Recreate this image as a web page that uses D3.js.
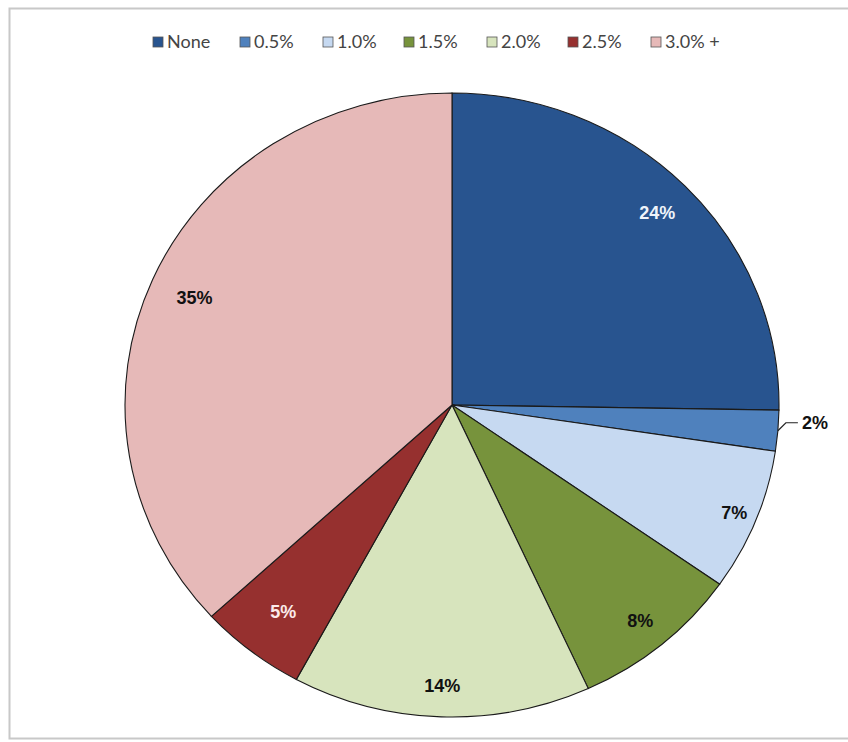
<!DOCTYPE html>
<html>
<head>
<meta charset="utf-8">
<script src="https://cdn.jsdelivr.net/npm/d3@7"></script>
<style>
  html, body { margin: 0; padding: 0; background: #ffffff; }
  svg { display: block; }
</style>
</head>
<body>
<svg id="chart" width="848" height="742"></svg>
<script>
// Share of respondents by rate category
const categories = ["None", "0.5%", "1.0%", "1.5%", "2.0%", "2.5%", "3.0% +"];
const shares = [24, 2, 7, 8, 14, 5, 35];
const sliceLabels = ["24%", "2%", "7%", "8%", "14%", "5%", "35%"];
const sliceColors = ["#28548f", "#4f81bd", "#c6d9f1", "#77933c", "#d7e4bd", "#96302f", "#e6b9b8"];
const labelColors = ["#eef3fa", "#111111", "#111111", "#111111", "#111111", "#fbeaea", "#111111"];

const W = 848, H = 742;
const svg = d3.select("#chart");

// chart frame
svg.append("rect")
  .attr("x", 9.5).attr("y", 8.5)
  .attr("width", W + 20).attr("height", 730)
  .attr("fill", "#ffffff")
  .attr("stroke", "#c8c8c8").attr("stroke-width", 2);

// pie geometry (slightly wider than tall)
const cx = 452, cy = 405, ry = 312, rx = 327;
const sx = rx / ry;

const pie = d3.pie().sort(null).value(d => d);
const arcs = pie(shares);
const arc = d3.arc().innerRadius(0).outerRadius(ry);

const g = svg.append("g")
  .attr("transform", `translate(${cx},${cy}) scale(${sx},1)`);

g.selectAll("path.slice")
  .data(arcs)
  .enter().append("path")
  .attr("class", "slice")
  .attr("d", arc)
  .attr("fill", (d, i) => sliceColors[i])
  .attr("stroke", "#1a1a1a")
  .attr("stroke-width", 1.1)
  .attr("vector-effect", "non-scaling-stroke");

// point on the ellipse at given angle (0 = top, clockwise) and radius fraction
function pt(angle, frac) {
  return [cx + rx * frac * Math.sin(angle), cy - ry * frac * Math.cos(angle)];
}

const labelG = svg.append("g")
  .attr("font-family", "'Liberation Sans', Arial, sans-serif")
  .attr("font-weight", "bold")
  .attr("font-size", 18);

// radial position of each inside label (fraction of radius)
const labelFrac = [0.88, 1.0, 0.93, 0.9, 0.9, 0.84, 0.86];

arcs.forEach((d, i) => {
  const mid = (d.startAngle + d.endAngle) / 2;
  if (i === 1) {
    // thin slice: label outside with a leader line
    const [ex, ey] = pt(mid, 1.0);
    const ly = ey - 8;
    svg.append("path")
      .attr("d", `M${ex},${ey} L${ex + 8},${ly} L${ex + 20},${ly}`)
      .attr("fill", "none")
      .attr("stroke", "#222")
      .attr("stroke-width", 1.2);
    labelG.append("text")
      .attr("x", ex + 24).attr("y", ly)
      .attr("dy", "0.35em")
      .attr("text-anchor", "start")
      .attr("fill", labelColors[i])
      .text(sliceLabels[i]);
  } else {
    const [lx, ly] = pt(mid, labelFrac[i]);
    labelG.append("text")
      .attr("x", lx).attr("y", ly)
      .attr("dy", "0.35em")
      .attr("text-anchor", "middle")
      .attr("fill", labelColors[i])
      .text(sliceLabels[i]);
  }
});

// legend
const legendX = [153, 240, 323, 404, 487, 568, 651];
const legendY = 42;
const legend = svg.append("g")
  .attr("font-family", "Lato, 'Open Sans', sans-serif")
  .attr("font-size", 18)
  .attr("fill", "#444");

categories.forEach((c, i) => {
  const it = legend.append("g").attr("transform", `translate(${legendX[i]},${legendY})`);
  it.append("rect")
    .attr("x", 0).attr("y", -5)
    .attr("width", 10).attr("height", 10)
    .attr("fill", sliceColors[i])
    .attr("stroke", "#555").attr("stroke-width", 0.8);
  it.append("text")
    .attr("x", 14).attr("y", 0)
    .attr("dy", "0.35em")
    .text(c);
});
</script>
</body>
</html>
